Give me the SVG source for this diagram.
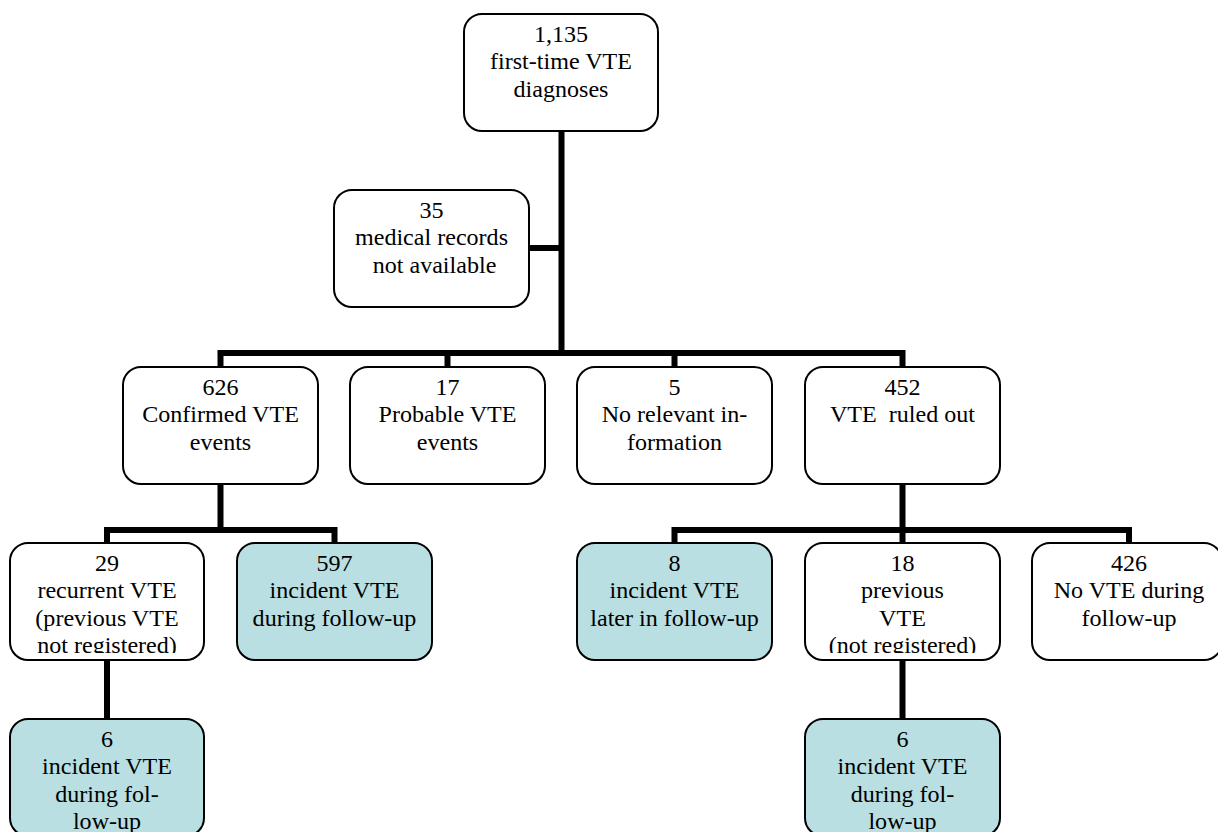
<svg xmlns="http://www.w3.org/2000/svg" width="1218" height="832" viewBox="0 0 1218 832">
<style>
.box{fill:#ffffff;stroke:#000;stroke-width:2}
.hl{fill:#b9dfe2}
.t{font-family:"Liberation Serif","Times New Roman",serif;font-size:22.5px;text-anchor:middle;fill:#000}
.c{stroke:#000;stroke-width:6;fill:none;stroke-linejoin:miter;stroke-linecap:butt}
</style>
<defs>
<clipPath id="clip29"><rect x="10" y="543" width="194" height="110"/></clipPath>
<clipPath id="clip18"><rect x="805" y="543" width="195" height="110"/></clipPath>
</defs>
<rect width="1218" height="832" fill="#fff"/>
<g id="connectors">
<path class="c" d="M561.5 131 V353"/>
<path class="c" d="M529 248 H561.5"/>
<path class="c" d="M220.5 367 V353 H902.5 V367"/>
<path class="c" d="M447.5 353 V367"/>
<path class="c" d="M674.5 353 V367"/>
<path class="c" d="M220.5 484 V530"/>
<path class="c" d="M107 543 V530 H334.5 V543"/>
<path class="c" d="M902.5 484 V543"/>
<path class="c" d="M674.5 543 V530 H1129 V543"/>
<path class="c" d="M107 660 V719"/>
<path class="c" d="M902.5 660 V719"/>
</g>
<g id="n-total">
<rect class="box" x="464" y="14" width="194" height="117" rx="18"/>
<text class="t" transform="translate(561 0) scale(1.07 1)"><tspan x="0" y="42">1,135</tspan><tspan x="0" y="69.5">first-time VTE</tspan><tspan x="0" y="97">diagnoses</tspan></text>
</g>
<g id="n-35">
<rect class="box" x="334" y="190" width="195" height="117" rx="18"/>
<text class="t" xml:space="preserve" transform="translate(431.5 0) scale(1.07 1)"><tspan x="0" y="218">35</tspan><tspan x="0" y="245.5">medical records</tspan><tspan x="0" y="273"> not available</tspan></text>
</g>
<g id="n-626">
<rect class="box" x="123" y="367" width="195" height="117" rx="18"/>
<text class="t" transform="translate(220.5 0) scale(1.07 1)"><tspan x="0" y="395">626</tspan><tspan x="0" y="422.5">Confirmed VTE</tspan><tspan x="0" y="450">events</tspan></text>
</g>
<g id="n-17">
<rect class="box" x="350" y="367" width="195" height="117" rx="18"/>
<text class="t" transform="translate(447.5 0) scale(1.07 1)"><tspan x="0" y="395">17</tspan><tspan x="0" y="422.5">Probable VTE</tspan><tspan x="0" y="450">events</tspan></text>
</g>
<g id="n-5">
<rect class="box" x="577" y="367" width="195" height="117" rx="18"/>
<text class="t" transform="translate(674.5 0) scale(1.07 1)"><tspan x="0" y="395">5</tspan><tspan x="0" y="422.5">No relevant in-</tspan><tspan x="0" y="450">formation</tspan></text>
</g>
<g id="n-452">
<rect class="box" x="805" y="367" width="195" height="117" rx="18"/>
<text class="t" xml:space="preserve" transform="translate(902.5 0) scale(1.07 1)"><tspan x="0" y="395">452</tspan><tspan x="0" y="422.5">VTE  ruled out</tspan></text>
</g>
<g id="n-29">
<rect class="box" x="10" y="543" width="194" height="117" rx="18"/>
<g clip-path="url(#clip29)">
<text class="t" transform="translate(107 0) scale(1.07 1)"><tspan x="0" y="571">29</tspan><tspan x="0" y="598.5">recurrent VTE</tspan><tspan x="0" y="626">(previous VTE</tspan><tspan x="0" y="653.5">not registered)</tspan></text>
</g>
</g>
<g id="n-597">
<rect class="box hl" x="237" y="543" width="195" height="117" rx="18"/>
<text class="t" transform="translate(334.5 0) scale(1.07 1)"><tspan x="0" y="571">597</tspan><tspan x="0" y="598.5">incident VTE</tspan><tspan x="0" y="626">during follow-up</tspan></text>
</g>
<g id="n-8">
<rect class="box hl" x="577" y="543" width="195" height="117" rx="18"/>
<text class="t" transform="translate(674.5 0) scale(1.07 1)"><tspan x="0" y="571">8</tspan><tspan x="0" y="598.5">incident VTE</tspan><tspan x="0" y="626">later in follow-up</tspan></text>
</g>
<g id="n-18">
<rect class="box" x="805" y="543" width="195" height="117" rx="18"/>
<g clip-path="url(#clip18)">
<text class="t" transform="translate(902.5 0) scale(1.07 1)"><tspan x="0" y="571">18</tspan><tspan x="0" y="598.5">previous</tspan><tspan x="0" y="626">VTE</tspan><tspan x="0" y="653.5">(not registered)</tspan></text>
</g>
</g>
<g id="n-426">
<rect class="box" x="1032" y="543" width="190" height="117" rx="18"/>
<text class="t" transform="translate(1129 0) scale(1.07 1)"><tspan x="0" y="571">426</tspan><tspan x="0" y="598.5">No VTE during</tspan><tspan x="0" y="626">follow-up</tspan></text>
</g>
<g id="n-6a">
<rect class="box hl" x="10" y="719" width="194" height="117" rx="18"/>
<text class="t" transform="translate(107 0) scale(1.07 1)"><tspan x="0" y="747">6</tspan><tspan x="0" y="774.5">incident VTE</tspan><tspan x="0" y="802">during fol-</tspan><tspan x="0" y="829.5">low-up</tspan></text>
</g>
<g id="n-6b">
<rect class="box hl" x="805" y="719" width="195" height="117" rx="18"/>
<text class="t" transform="translate(902.5 0) scale(1.07 1)"><tspan x="0" y="747">6</tspan><tspan x="0" y="774.5">incident VTE</tspan><tspan x="0" y="802">during fol-</tspan><tspan x="0" y="829.5">low-up</tspan></text>
</g>
</svg>
